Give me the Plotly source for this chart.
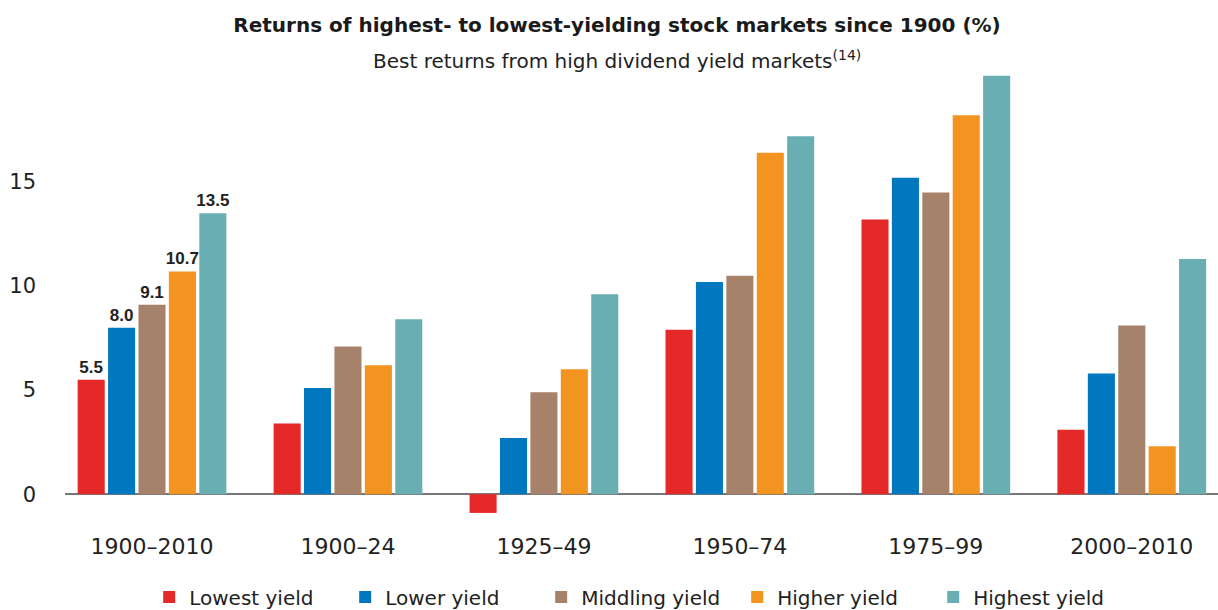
import plotly.graph_objects as go

periods = ['1900–2010', '1900–24', '1925–49', '1950–74', '1975–99', '2000–2010']
series_names = ['Lowest yield', 'Lower yield', 'Middling yield', 'Higher yield', 'Highest yield']
lowest = [5.5, 3.4, -0.9, 7.9, 13.2, 3.1]
lower = [8.0, 5.1, 2.7, 10.2, 15.2, 5.8]
middling = [9.1, 7.1, 4.9, 10.5, 14.5, 8.1]
higher = [10.7, 6.2, 6.0, 16.4, 18.2, 2.3]
highest = [13.5, 8.4, 9.6, 17.2, 20.1, 11.3]
colors = ['#E52929', '#0077BF', '#A6826A', '#F39320', '#68AEB2']

font = 'DejaVu Sans'
fig = go.Figure()
for name, vals, col in zip(series_names, [lowest, lower, middling, higher, highest], colors):
    # only the full-period group carries value labels
    labels = [f'{v:.1f}' if i == 0 else '' for i, v in enumerate(vals)]
    fig.add_trace(go.Bar(
        x=periods, y=vals, name=name, marker_color=col, marker_line_width=0,
        text=labels, textposition='outside', cliponaxis=False, constraintext='none',
        textfont=dict(family='Liberation Sans', size=17, color='#222222', weight='bold'),
    ))

fig.update_layout(
    width=1218, height=610,
    margin=dict(l=65, r=0, t=70, b=95, autoexpand=False),
    paper_bgcolor='white', plot_bgcolor='white',
    barmode='group', bargap=0.224, bargroupgap=0.11,
    font=dict(family=font, color='#222222'),
    title=dict(text='<b>Returns of highest- to lowest-yielding stock markets since 1900 (%)</b>',
               x=0.5066, xanchor='center', y=0.959, yanchor='middle',
               font=dict(size=20, color='#1a1a1a')),
    annotations=[dict(text='Best returns from high dividend yield markets<sup>(14)</sup>',
                      xref='paper', yref='paper', x=0.4787, y=1.0225,
                      xanchor='center', yanchor='middle', showarrow=False,
                      font=dict(size=20, color='#222222'))],
    legend=dict(orientation='h', x=0.498, xanchor='center', y=-0.184, yanchor='middle',
                font=dict(size=20, color='#222222'), traceorder='normal',
                entrywidth=151, entrywidthmode='pixels'),
    showlegend=True,
)
fig.update_xaxes(range=[-0.444, 5.44], showline=False, ticks='', showgrid=False, automargin=False,
                 tickfont=dict(size=22, color='#222222'), ticklabelstandoff=16)
fig.update_yaxes(range=[-1.0, 20.38], tickvals=[0, 5, 10, 15], showgrid=False, automargin=False,
                 zeroline=True, zerolinecolor='#777777', zerolinewidth=2, layer='above traces',
                 tickfont=dict(size=21, color='#222222'), ticks='', ticklabelstandoff=28)

# drop the browser's default page margin so the figure sits at the window origin
fig.write_html('out.html', config={'displayModeBar': False},
               post_script="document.body.style.margin='0px';")
